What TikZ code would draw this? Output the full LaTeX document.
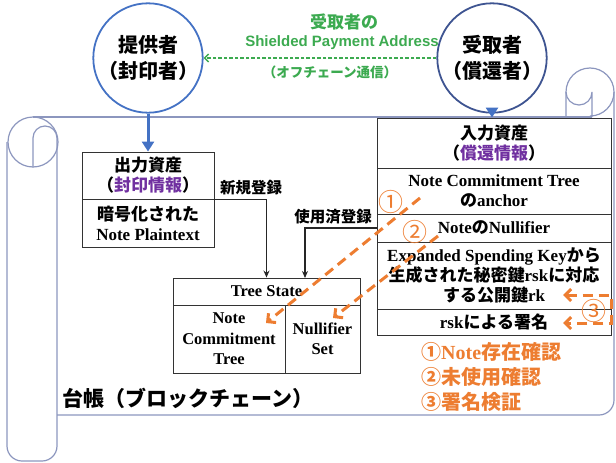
\documentclass[tikz,border=0pt]{standalone}
\usepackage{fontspec}
\setmainfont{Liberation Serif}
\newfontfamily\jp{Noto Sans CJK JP}
\newfontfamily\arialf{Liberation Sans}
\usetikzlibrary{arrows.meta}
\definecolor{scrollc}{RGB}{140,150,190}
\definecolor{cblue}{RGB}{68,114,196}
\definecolor{cnavy}{RGB}{62,84,145}
\definecolor{cgreen}{RGB}{60,170,80}
\definecolor{corange}{RGB}{237,125,49}
\definecolor{cpurple}{RGB}{112,48,160}
\newcommand\J[1]{{\jp #1}}
\begin{document}
\begin{tikzpicture}[x=1pt,y=-1pt,
  scroll/.style={draw=scrollc, line width=1.2pt},
  cell/.style={draw=black!80, line width=0.9pt, rectangle, inner sep=0pt, align=center,
    font=\bfseries\fontsize{17}{20}\selectfont},
  tcell/.style={cell, font=\bfseries\fontsize{16.5}{20.5}\selectfont},
  actor/.style={circle, line width=1.8pt, minimum size=92pt, inner sep=0pt, align=center,
    font=\jp\bfseries\fontsize{20}{26}\selectfont},
  bluearrow/.style={draw=cblue, line width=3pt, -{Triangle[length=10pt,width=12pt]}},
  greenarrow/.style={draw=cgreen, line width=1.4pt, dash pattern=on 3.5pt off 2pt,
    -{Straight Barb[length=4pt,width=8pt]}},
  blk/.style={draw=black!85, line width=1.2pt, -{Stealth[length=7pt,width=6pt]}},
  orangearrow/.style={draw=corange, line width=3pt, dash pattern=on 10pt off 6pt,
    -{Straight Barb[length=6pt,width=12pt]}},
  glabel/.style={text=cgreen, inner sep=0pt},
  reglabel/.style={inner sep=0pt, font=\jp\bfseries\fontsize{15.5}{18}\selectfont},
  numlabel/.style={inner sep=0pt, text=corange, font=\jp\fontsize{25}{26}\selectfont}
]
\useasboundingbox (0,0) rectangle (616,463);

% ---- scroll (ledger) ----
\draw[scroll] (33,117) -- (592,117);
\draw[scroll] (33,142) circle (25);
\draw[scroll] (33,167) -- (33,138) arc[start angle=180, end angle=360, radius=12]
  -- (57,446) arc[start angle=0, end angle=90, radius=15]
  -- (22,461) arc[start angle=90, end angle=180, radius=15] -- (7,142);
\draw[scroll] (57,415) -- (599,415) arc[start angle=90, end angle=0, radius=15] -- (614,92);
\draw[scroll] (590,116) arc[start angle=90, end angle=-180, radius=24] -- (566,117);
\draw[scroll] (566,92) arc[start angle=180, end angle=0, radius=13] -- (592,117);

% ---- actors ----
\node[actor, draw=cblue] (c1) at (148,58) {提供者\\（封印者）};
\node[actor, draw=cnavy] (c2) at (492,58) {受取者\\（償還者）};

% ---- green labels ----
\node[glabel, font=\jp\bfseries\fontsize{17}{18}\selectfont] (g1) at (344,22) {受取者の};
\node[glabel, font=\arialf\bfseries\fontsize{15}{18}\selectfont] (g2) at (342,43) {Shielded Payment Address};
\node[glabel, font=\jp\bfseries\fontsize{13.5}{16}\selectfont] (g3) at (330,72) {（オフチェーン通信）};
\draw[greenarrow] (c2.west) -- (c2.west -| c1.east);

% ---- output box ----
\node[cell, minimum width=132pt, minimum height=47pt] (outhead) at (148,175.5)
  {\J{出力資産}\\\J{（{\color{cpurple}封印情報}）}};
\node[cell, minimum width=132pt, minimum height=48pt] (outbody) at (148,223)
  {\J{暗号化された}\\Note Plaintext};

% ---- input box ----
\node[cell, minimum width=234pt, minimum height=50pt] (inhead) at (494,143)
  {\J{入力資産}\\\J{（{\color{cpurple}償還情報}）}};
\node[cell, minimum width=234pt, minimum height=46pt] (inanchor) at (494,191)
  {Note Commitment Tree\\\J{の}anchor};
\node[cell, minimum width=234pt, minimum height=28pt] (innull) at (494,228)
  {Note\J{の}Nullifier};
\node[cell, minimum width=234pt, minimum height=67pt] (inrk) at (494,275.5)
  {Expanded Spending Key\J{から}\\\J{生成された秘密鍵}rsk\J{に対応}\\\J{する公開鍵}rk};
\node[cell, minimum width=234pt, minimum height=26pt] (insig) at (494,322)
  {rsk\J{による署名}};

% ---- tree state ----
\node[tcell, minimum width=187pt, minimum height=27pt] (tshead) at (266.5,291.5) {Tree State};
\node[tcell, minimum width=112pt, minimum height=68pt] (tsnct) at (229,339) {Note\\Commitment\\Tree};
\node[tcell, minimum width=75pt, minimum height=68pt] (tsnul) at (322.5,339) {Nullifier\\Set};

% ---- blue arrows ----
\draw[bluearrow] (c1.south) -- (outhead.north);
\draw[bluearrow] (c2.south) -- (c2.south |- inhead.north);

% ---- registration arrows ----
\coordinate (tsin2) at (305,278);
\draw[blk] (outhead.south east) -| (tshead.north);
\draw[blk] (innull.west) -| (tsin2);
\node[reglabel] (newreg) at (251,188) {新規登録};
\node[reglabel] (usedreg) at (333,217) {使用済登録};

% ---- ledger label ----
\node[anchor=west, inner sep=0pt, font=\jp\bfseries\fontsize{21}{24}\selectfont] (ledger) at (62,398) {台帳（ブロックチェーン）};

% ---- orange check arrows ----
\coordinate (o1s) at (420,198);
\coordinate (o1e) at (266,323);
\coordinate (o2s) at (438,236);
\coordinate (o2e) at (333,318);
\draw[orangearrow] (o1s) -- (o1e);
\draw[orangearrow] (o2s) -- (o2e);
\coordinate (o3a) at (563,295);
\coordinate (o3b) at (563,323);
\coordinate (o3c) at (611,295);
\coordinate (o3d) at (611,323);
\draw[orangearrow, {Straight Barb[length=6pt,width=12pt]}-{Straight Barb[length=6pt,width=12pt]}]
  (o3a) -- (o3c) -- (o3d) -- (o3b);
\node[numlabel] (n1) at (391,202) {①};
\node[numlabel] (n2) at (415,232) {②};
\node[numlabel] (n3) at (594,311) {③};

% ---- legend ----
\node[anchor=west, align=left, inner sep=0pt, text=corange,
  font=\bfseries\fontsize{20}{25}\selectfont] (legend) at (421,377)
  {\J{①}Note\J{存在確認}\\\J{②未使用確認}\\\J{③署名検証}};
\end{tikzpicture}
\end{document}
